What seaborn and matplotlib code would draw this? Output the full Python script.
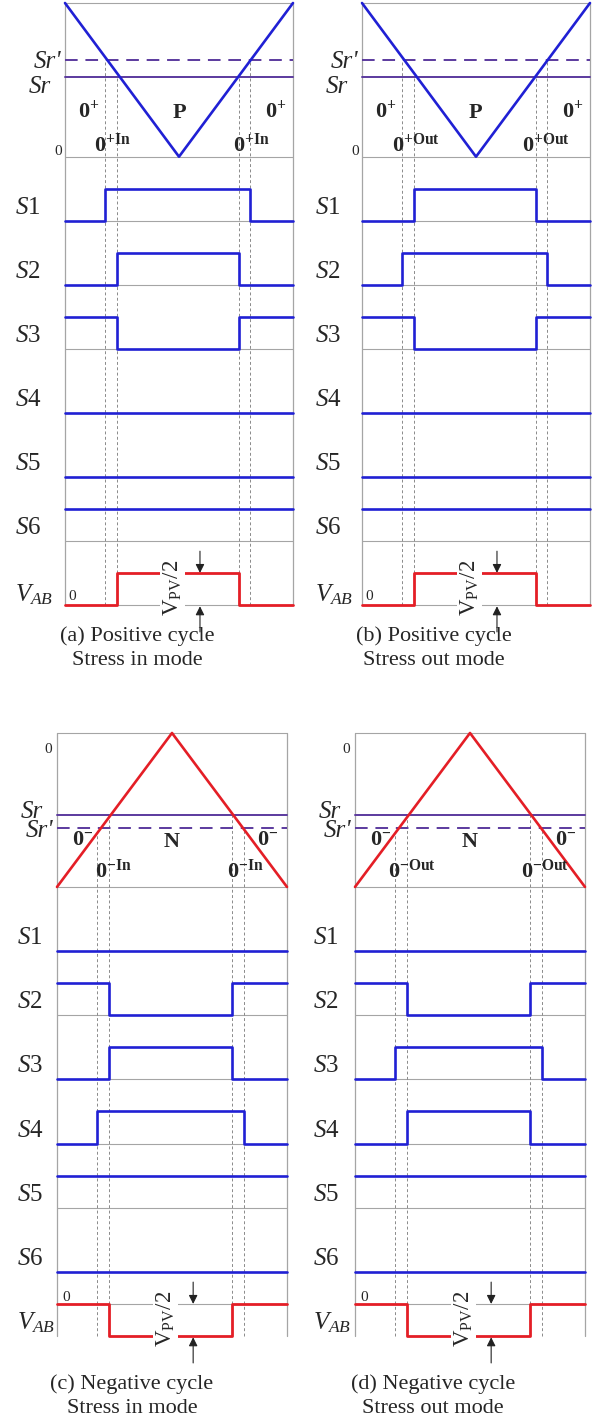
import numpy as np
import pandas as pd
import matplotlib
matplotlib.use("Agg")
import matplotlib.pyplot as plt
import seaborn as sns

sns.set_style("white")
plt.rcParams['font.family'] = ['Liberation Serif', 'DejaVu Serif']
plt.rcParams['mathtext.fontset'] = 'custom'
plt.rcParams['mathtext.rm'] = 'Liberation Serif'
plt.rcParams['mathtext.it'] = 'Liberation Serif:italic'
plt.rcParams['mathtext.bf'] = 'Liberation Serif:bold'

# ---------------- data ----------------
signals = ["S1", "S2", "S3", "S4", "S5", "S6"]
t_narrow = [0.228, 0.762]     # carrier crosses Sr
t_wide = [0.176, 0.812]       # carrier crosses Sr'
carrier_t = [0.0, 0.5, 1.0]
carrier_pos = [1.0, 0.0, 1.0]
carrier_neg = [-1.0, 0.0, -1.0]
sr_pos = [0.52, 0.63]         # Sr, Sr'
sr_neg = [-0.53, -0.62]       # Sr, Sr'

# switching states: level outside window, level inside window, window type
a_out = [0, 0, 1, 0, 0, 1]; a_in = [1, 1, 0, 0, 0, 1]; a_win = ["w", "n", "n", "n", "n", "n"]
b_out = [0, 0, 1, 0, 0, 1]; b_in = [1, 1, 0, 0, 0, 1]; b_win = ["n", "w", "n", "n", "n", "n"]
c_out = [0, 1, 0, 0, 1, 0]; c_in = [0, 0, 1, 1, 1, 0]; c_win = ["n", "n", "n", "w", "n", "n"]
d_out = [0, 1, 0, 0, 1, 0]; d_in = [0, 0, 1, 1, 1, 0]; d_win = ["n", "n", "w", "n", "n", "n"]
vab_pos = [0, 1]    # outside, inside (units of Vpv/2)
vab_neg = [0, -1]

captions = ["(a) Positive cycle\nStress in mode", "(b) Positive cycle\nStress out mode",
            "(c) Negative cycle\nStress in mode", "(d) Negative cycle\nStress out mode"]

# ---------------- style ----------------
W, H = 600, 1423
TOP = 9.4
AMP = 2.4
BLUE = "#2020d4"
RED = "#e41e26"
PURPLE = "#5b3a9e"
GRAY = "#a5a5a5"
DGRAY = "#8a8a8a"

fig = plt.figure(figsize=(W / 100, H / 100), dpi=100)


def txt(x, y, s, **kw):
    fig.text(x / W, 1 - y / H, s, **kw)


panels = [
    dict(box=(65, 3, 293, 605), pos=True, out=a_out, inn=a_in, win=a_win, vab=vab_pos,
         sup="+In", lab_x=15, cap=(137, 648)),
    dict(box=(362, 3, 590, 605), pos=True, out=b_out, inn=b_in, win=b_win, vab=vab_pos,
         sup="+Out", lab_x=315, cap=(434, 648)),
    dict(box=(57, 733, 287, 1336), pos=False, out=c_out, inn=c_in, win=c_win, vab=vab_neg,
         sup="-In", lab_x=17, cap=(132, 1396)),
    dict(box=(355, 733, 585, 1336), pos=False, out=d_out, inn=d_in, win=d_win, vab=vab_neg,
         sup="-Out", lab_x=313, cap=(433, 1396)),
]

for i, p in enumerate(panels):
    L, T, R, B = p["box"]
    ax = fig.add_axes([L / W, 1 - B / H, (R - L) / W, (B - T) / H])
    ax.set_xlim(0, 1)
    ax.set_ylim(0, TOP)
    ax.axis("off")
    pos = p["pos"]
    zero = 7.0 if pos else TOP
    ppu = (B - T) / TOP  # pixels per unit

    # frame / row separators
    rows = [TOP, 7, 6, 5, 4, 3, 2, 1] + ([0] if pos else [0.5])
    for r in rows:
        ax.axhline(r, color=GRAY, lw=0.8, zorder=1)
    ax.axvline(0, color=GRAY, lw=0.9, zorder=1)
    ax.axvline(1, color=GRAY, lw=0.9, zorder=1)

    # carrier
    cvals = carrier_pos if pos else carrier_neg
    cy = [zero + AMP * v for v in cvals]
    sns.lineplot(x=carrier_t, y=cy, color=BLUE if pos else RED, lw=1.9,
                 estimator=None, sort=False, ax=ax, zorder=4)

    # reference levels
    sr = sr_pos if pos else sr_neg
    y_sr = zero + AMP * sr[0]
    y_srp = zero + AMP * sr[1]
    ax.axhline(y_sr, color=PURPLE, lw=1.4, zorder=3)
    ax.axhline(y_srp, color=PURPLE, lw=1.4, dashes=(6.5, 4), zorder=3)

    # dashed guide lines
    ax.vlines(t_narrow, 0, y_sr, colors=DGRAY, lw=0.7, linestyles=(0, (3, 2.5)), zorder=2)
    ax.vlines(t_wide, 0, y_srp, colors=DGRAY, lw=0.7, linestyles=(0, (3, 2.5)), zorder=2)

    # switching signals
    recs = []
    for k, name in enumerate(signals):
        e = t_wide if p["win"][k] == "w" else t_narrow
        base = 6 - k
        lv = [p["out"][k], p["inn"][k], p["out"][k], p["out"][k]]
        for t, v in zip([0.0, e[0], e[1], 1.0], lv):
            recs.append(dict(sig=name, t=t, y=base + 0.5 * v))
    df = pd.DataFrame(recs)
    sns.lineplot(data=df, x="t", y="y", units="sig", estimator=None, sort=False,
                 drawstyle="steps-post", color=BLUE, lw=1.9, ax=ax, legend=False, zorder=4)

    # V_AB
    vbase = 0.0 if pos else 0.5
    vo, vi = p["vab"]
    dv = pd.DataFrame(dict(t=[0.0, t_narrow[0], t_narrow[1], 1.0],
                           y=[vbase + 0.5 * v for v in [vo, vi, vo, vo]]))
    sns.lineplot(data=dv, x="t", y="y", estimator=None, sort=False, drawstyle="steps-post",
                 color=RED, lw=2.0, ax=ax, legend=False, zorder=4)

    for ln in ax.lines:
        ln.set_clip_on(False)
    for c in ax.collections:
        c.set_clip_on(False)

    # V_PV/2 label and arrows
    ax.text(0.472, 0.26, r"V$_{\rm PV}$/2", rotation=90, ha="center", va="center",
            fontsize=16.5, zorder=6,
            bbox=dict(facecolor="white", edgecolor="none", pad=1.0))
    ax.annotate("", xy=(0.592, 0.5), xytext=(0.592, 0.84),
                arrowprops=dict(arrowstyle="-|>", color="#222222", lw=0.8,
                                mutation_scale=13, shrinkA=0, shrinkB=0),
                annotation_clip=False)
    ax.annotate("", xy=(0.592, -0.02), xytext=(0.592, -0.42),
                arrowprops=dict(arrowstyle="-|>", color="#222222", lw=0.8,
                                mutation_scale=13, shrinkA=0, shrinkB=0),
                annotation_clip=False)

    # ---- texts (pixel positions) ----
    def ypx(yd):
        return B - yd * ppu

    lx = p["lab_x"]
    for k, name in enumerate(signals):
        txt(lx, ypx(6 - k) - 7, r"$S$" + name[1], fontsize=18, va="baseline", ha="left")
    txt(lx, ypx(0) - (4 if pos else 7), r"$V_{AB}$", fontsize=18, va="baseline", ha="left")
    # small zero at V_AB
    if pos:
        txt(L + 3, B - 5, "0", fontsize=11, va="baseline", ha="left")
    else:
        txt(L + 5, ypx(0.5) - 3, "0", fontsize=11, va="baseline", ha="left")
    # Sr labels
    txt(L - 4, ypx(y_srp) + 8 if pos else ypx(y_srp) + 9, "Sr'", fontsize=18,
        style="italic", va="baseline", ha="right")
    txt(L - 14, ypx(y_sr) + 16 if pos else ypx(y_sr) + 3, "Sr", fontsize=18,
        style="italic", va="baseline", ha="right")
    # carrier zero label
    if pos:
        txt(L - 3, ypx(7) - 2, "0", fontsize=11, va="baseline", ha="right")
    else:
        txt(L - 5, T + 20, "0", fontsize=11, va="baseline", ha="right")

    # region labels
    w = R - L
    if pos:
        txt(L + 0.057 * w, 117, r"$\mathbf{0^{+}}$", fontsize=16, va="baseline", ha="left")
        txt(L + 0.877 * w, 117, r"$\mathbf{0^{+}}$", fontsize=16, va="baseline", ha="left")
        txt(L + 0.5 * w, 118, r"$\mathbf{P}$", fontsize=16, va="baseline", ha="center")
        yb = 152
        xl = [L + 0.125 * w, L + 0.737 * w] if p["sup"] == "+In" else [L + 0.13 * w, L + 0.70 * w]
    else:
        txt(L + 0.065 * w, 845, r"$\mathbf{0^{-}}$", fontsize=16, va="baseline", ha="left")
        txt(L + 0.87 * w, 845, r"$\mathbf{0^{-}}$", fontsize=16, va="baseline", ha="left")
        txt(L + 0.5 * w, 847, r"$\mathbf{N}$", fontsize=16, va="baseline", ha="center")
        yb = 878
        xl = [L + 0.165 * w, L + 0.74 * w] if p["sup"] == "-In" else [L + 0.145 * w, L + 0.72 * w]
    lab = r"$\mathbf{0^{" + p["sup"] + "}}$"
    for xx in xl:
        txt(xx, yb, lab, fontsize=16, va="baseline", ha="left")

    # caption
    cx, cy_ = p["cap"]
    txt(cx, cy_, captions[i], fontsize=16, ha="center", va="center", linespacing=1.35)

fig.savefig("out.png", dpi=100)
